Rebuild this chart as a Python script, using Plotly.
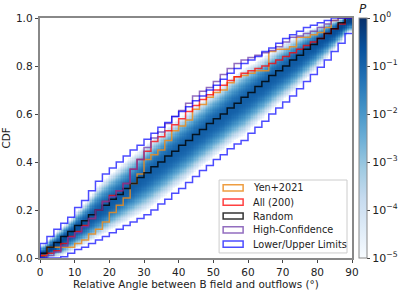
import numpy as np
import plotly.graph_objects as go

# bin edges (deg) and cumulative values per 2-degree bin (bins start at 0,2,...,88)
bin_starts = list(range(0, 90, 2))

random_cdf = [0.02, 0.045, 0.065, 0.09, 0.11, 0.135, 0.155, 0.18, 0.20, 0.22, 0.245, 0.265, 0.29,
              0.31, 0.335, 0.355, 0.38, 0.40, 0.425, 0.445, 0.47, 0.49, 0.515, 0.535, 0.56, 0.58,
              0.60, 0.625, 0.645, 0.67, 0.69, 0.715, 0.735, 0.76, 0.78, 0.80, 0.825, 0.845, 0.87,
              0.89, 0.915, 0.935, 0.955, 0.98, 1.0]

all_cdf = [0.01, 0.02, 0.03, 0.06, 0.09, 0.11, 0.135, 0.165, 0.20, 0.235, 0.26, 0.28, 0.31, 0.37,
           0.41, 0.445, 0.485, 0.505, 0.53, 0.555, 0.58, 0.61, 0.635, 0.66, 0.68, 0.70, 0.72, 0.74,
           0.755, 0.77, 0.78, 0.79, 0.80, 0.81, 0.825, 0.84, 0.855, 0.87, 0.885, 0.90, 0.915, 0.935,
           0.955, 0.975, 1.0]

hc_cdf = [0.0, 0.01, 0.025, 0.05, 0.085, 0.105, 0.13, 0.165, 0.20, 0.235, 0.255, 0.28, 0.31, 0.37,
          0.41, 0.46, 0.50, 0.525, 0.56, 0.59, 0.615, 0.645, 0.675, 0.695, 0.71, 0.735, 0.765, 0.79,
          0.81, 0.825, 0.835, 0.845, 0.855, 0.865, 0.88, 0.90, 0.92, 0.925, 0.935, 0.945, 0.96,
          0.975, 0.99, 1.0, 1.0]

yen_cdf = [0.01, 0.045, 0.045, 0.045, 0.045, 0.06, 0.075, 0.10, 0.12, 0.15, 0.19, 0.22, 0.25, 0.31,
           0.35, 0.41, 0.43, 0.45, 0.49, 0.53, 0.55, 0.575, 0.62, 0.64, 0.67, 0.69, 0.70, 0.73,
           0.755, 0.76, 0.77, 0.78, 0.78, 0.86, 0.87, 0.87, 0.88, 0.92, 0.92, 0.93, 0.94, 0.96,
           0.99, 1.0, 1.0]

upper_cdf = [0.06, 0.09, 0.12, 0.145, 0.17, 0.21, 0.24, 0.28, 0.32, 0.35, 0.375, 0.40, 0.425, 0.45,
             0.47, 0.495, 0.52, 0.545, 0.565, 0.59, 0.61, 0.63, 0.655, 0.675, 0.70, 0.72, 0.745,
             0.77, 0.79, 0.81, 0.825, 0.84, 0.86, 0.875, 0.895, 0.915, 0.93, 0.945, 0.96, 0.97,
             0.98, 0.99, 1.0, 1.0, 1.0]

lower_cdf = [0.0, 0.0, 0.0, 0.005, 0.02, 0.035, 0.045, 0.06, 0.075, 0.09, 0.105, 0.12, 0.135, 0.15,
             0.165, 0.18, 0.20, 0.225, 0.245, 0.27, 0.29, 0.315, 0.34, 0.365, 0.385, 0.41, 0.43,
             0.455, 0.475, 0.49, 0.52, 0.545, 0.57, 0.60, 0.625, 0.65, 0.675, 0.705, 0.735, 0.765,
             0.795, 0.825, 0.86, 0.895, 0.935]

cbar_tickvals = [-5, -4, -3, -2, -1, 0]
cbar_ticktext = ["10<sup>\u22125</sup>", "10<sup>\u22124</sup>", "10<sup>\u22123</sup>",
                 "10<sup>\u22122</sup>", "10<sup>\u22121</sup>", "10<sup>0</sup>"]

series = [
    ("Yen+2021", yen_cdf, "rgba(235,140,30,0.85)"),
    ("All (200)", all_cdf, "rgba(255,0,0,0.75)"),
    ("Random", random_cdf, "rgba(0,0,0,0.8)"),
    ("High-Confidence", hc_cdf, "rgba(110,60,170,0.75)"),
    ("Lower/Upper Limits", upper_cdf, "rgba(0,0,255,0.7)"),
]

# ---- probability map between lower/upper limits, peaked at the random CDF ----
bin_centers = np.array(bin_starts) + 1.0
xc = np.arange(0.25, 90, 0.5)
yc = np.arange(0.0025, 1.0, 0.005)
cen = np.interp(xc, bin_centers, random_cdf) - 0.01
up = np.interp(xc, bin_centers, upper_cdf)
lo = np.interp(xc, bin_centers, lower_cdf)
Z = np.full((len(yc), len(xc)), np.nan)
k = 5.0
for j in range(len(xc)):
    su = max(up[j] - cen[j], 0.03) / k
    sl = max(cen[j] - lo[j], 0.03) / k
    s = np.where(yc >= cen[j], su, sl)
    p = np.exp(-0.5 * ((yc - cen[j]) / s) ** 2)
    p = 2.0 * p / p.sum()          # probability per 0.01-wide CDF bin
    p = np.minimum(p, 1.0)
    logp = np.log10(np.maximum(p, 1e-12))
    mask = (p >= 1e-5) & (yc <= up[j] + 0.005) & (yc >= lo[j] - 0.005)
    Z[mask, j] = logp[mask]

blues = [[0.0, "rgb(247,251,255)"], [0.125, "rgb(222,235,247)"], [0.25, "rgb(198,219,239)"],
         [0.375, "rgb(158,202,225)"], [0.5, "rgb(107,174,214)"], [0.625, "rgb(66,146,198)"],
         [0.75, "rgb(33,113,181)"], [0.875, "rgb(8,81,156)"], [1.0, "rgb(8,48,107)"]]

fig = go.Figure()
fig.add_trace(go.Heatmap(
    x=xc, y=yc, z=Z, zmin=-5, zmax=0, colorscale=blues, hoverongaps=False, zsmooth=False,
    colorbar=dict(
        x=1.022, xanchor="left", xpad=0, ypad=0, y=0.5, yanchor="middle", len=1.0, lenmode="fraction",
        thickness=8, outlinecolor="#888888", outlinewidth=1,
        tickvals=cbar_tickvals, ticktext=cbar_ticktext, ticks="outside", ticklen=3,
        tickfont=dict(family="DejaVu Sans", size=11, color="#222"),
    ),
    showlegend=False,
))

def step_xy(vals):
    xs = [0] + bin_starts + [90]
    ys = [0] + list(vals) + [vals[-1]]
    return xs, ys

for name, vals, col in series:
    xs, ys = step_xy(vals)
    fig.add_trace(go.Scatter(x=xs, y=ys, mode="lines", line=dict(color=col, width=1.5, shape="hv"),
                             name=name, showlegend=False))
# lower-limit curve (same legend entry as upper)
xs, ys = step_xy(lower_cdf)
fig.add_trace(go.Scatter(x=xs, y=ys, mode="lines", line=dict(color="rgba(0,0,255,0.7)", width=1.5, shape="hv"),
                         name="Lower/Upper Limits", showlegend=False))

# ---- manual legend with rectangle swatches ----
shapes = [dict(type="rect", xref="paper", yref="paper", x0=0.574, x1=0.984, y0=0.021, y1=0.325,
               line=dict(color="#cccccc", width=1), fillcolor="rgba(255,255,255,0.85)", layer="above")]
annotations = []
rows_y = [0.292, 0.233, 0.175, 0.117, 0.058]
for (name, vals, col), ry in zip(series, rows_y):
    shapes.append(dict(type="rect", xref="paper", yref="paper", x0=0.587, x1=0.651,
                       y0=ry - 0.013, y1=ry + 0.013, line=dict(color=col, width=1.5),
                       fillcolor="rgba(0,0,0,0)", layer="above"))
    annotations.append(dict(xref="paper", yref="paper", x=0.676, y=ry, text=name, showarrow=False,
                            xanchor="left", yanchor="middle",
                            font=dict(family="DejaVu Sans", size=9.7, color="#222")))
# colorbar title
annotations.append(dict(xref="paper", yref="paper", x=1.035, y=1.0, text="<i>P</i>", showarrow=False,
                        xanchor="center", yanchor="bottom", yshift=0,
                        font=dict(family="DejaVu Sans", size=12, color="#222")))

axis_common = dict(showline=True, linecolor="#888888", linewidth=1.5, mirror=True, ticks="outside",
                   ticklen=3.5, tickcolor="#444", showgrid=False, zeroline=False, automargin=False,
                   tickfont=dict(family="DejaVu Sans", size=10.5, color="#222"))
fig.update_layout(
    width=399, height=292, margin=dict(l=40, r=47, t=18, b=34, autoexpand=False),
    paper_bgcolor="white", plot_bgcolor="white",
    xaxis=dict(range=[0, 90], tickvals=[0, 10, 20, 30, 40, 50, 60, 70, 80, 90],
               title=dict(text="Relative Angle between B field and outflows (\u00b0)", standoff=2,
                          font=dict(family="DejaVu Sans", size=10.4, color="#222")), **axis_common),
    yaxis=dict(range=[0, 1], tickvals=[0, 0.2, 0.4, 0.6, 0.8, 1.0], tickformat=".1f",
               title=dict(text="CDF", standoff=4, font=dict(family="DejaVu Sans", size=10.4, color="#222")),
               **axis_common),
    shapes=shapes, annotations=annotations,
)
fig.write_html("out.html", config={"displayModeBar": False},
               post_script="document.body.style.margin='0';document.body.style.padding='0';")
